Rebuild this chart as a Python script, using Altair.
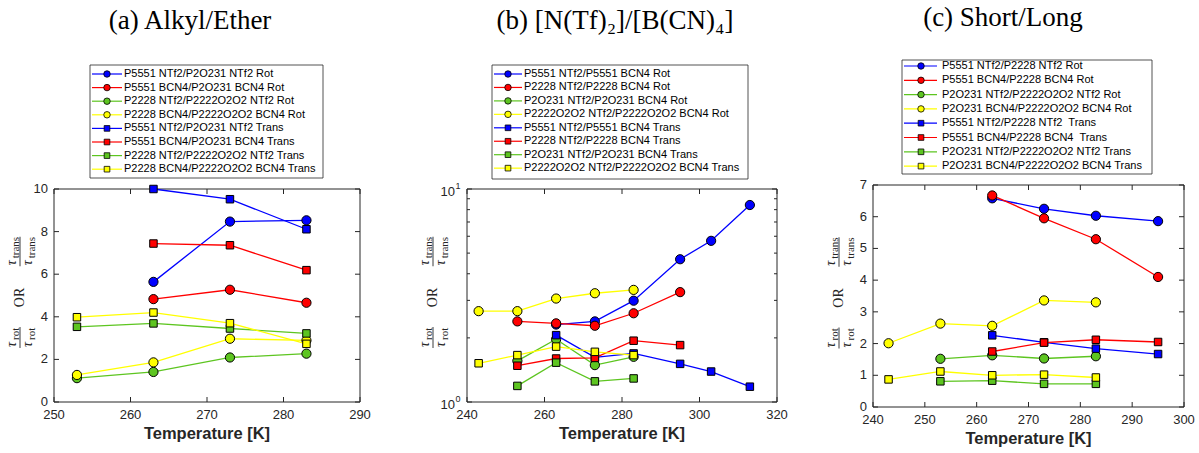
import altair as alt
import pandas as pd

# ---------------------------------------------------------------- data
COLORS = ["#0000FF", "#FF0000", "#5DC520", "#FFFF00",
          "#0000FF", "#FF0000", "#5DC520", "#FFFF00"]
SHAPES = ["circle"] * 4 + ["square"] * 4

A_LABELS = ["P5551 NTf2/P2O231 NTf2 Rot", "P5551 BCN4/P2O231 BCN4 Rot",
            "P2228 NTf2/P2222O2O2 NTf2 Rot", "P2228 BCN4/P2222O2O2 BCN4 Rot",
            "P5551 NTf2/P2O231 NTf2 Trans", "P5551 BCN4/P2O231 BCN4 Trans",
            "P2228 NTf2/P2222O2O2 NTf2 Trans", "P2228 BCN4/P2222O2O2 BCN4 Trans"]
A_T = [[263, 273, 283], [263, 273, 283], [253, 263, 273, 283], [253, 263, 273, 283],
       [263, 273, 283], [263, 273, 283], [253, 263, 273, 283], [253, 263, 273, 283]]
A_Y = [[5.64, 8.47, 8.53], [4.83, 5.27, 4.66], [1.12, 1.41, 2.09, 2.27], [1.27, 1.86, 2.97, 2.89],
       [10.0, 9.52, 8.11], [7.44, 7.36, 6.19], [3.53, 3.69, 3.45, 3.22], [3.98, 4.20, 3.70, 2.73]]

B_LABELS = ["P5551 NTf2/P5551 BCN4 Rot", "P2228 NTf2/P2228 BCN4 Rot",
            "P2O231 NTf2/P2O231 BCN4 Rot", "P2222O2O2 NTf2/P2222O2O2 BCN4 Rot",
            "P5551 NTf2/P5551 BCN4 Trans", "P2228 NTf2/P2228 BCN4 Trans",
            "P2O231 NTf2/P2O231 BCN4 Trans", "P2222O2O2 NTf2/P2222O2O2 BCN4 Trans"]
B_T = [[263, 273, 283, 295, 303, 313], [253, 263, 273, 283, 295], [253, 263, 273, 283],
       [243, 253, 263, 273, 283],
       [263, 273, 283, 295, 303, 313], [253, 263, 273, 283, 295], [253, 263, 273, 283],
       [243, 253, 263, 273, 283]]
B_Y = [[2.31, 2.39, 2.99, 4.68, 5.71, 8.41], [2.39, 2.34, 2.28, 2.61, 3.28], [1.56, 1.97, 1.49, 1.63],
       [2.67, 2.67, 3.06, 3.24, 3.36],
       [2.06, 1.62, 1.69, 1.51, 1.39, 1.18], [1.48, 1.60, 1.61, 1.94, 1.85], [1.19, 1.53, 1.25, 1.29],
       [1.52, 1.66, 1.82, 1.72, 1.66]]

C_LABELS = ["P5551 NTf2/P2228 NTf2 Rot", "P5551 BCN4/P2228 BCN4 Rot",
            "P2O231 NTf2/P2222O2O2 NTf2 Rot", "P2O231 BCN4/P2222O2O2 BCN4 Rot",
            "P5551 NTf2/P2228 NTf2\u00a0 Trans", "P5551 BCN4/P2228 BCN4\u00a0 Trans",
            "P2O231 NTf2/P2222O2O2 NTf2 Trans", "P2O231 BCN4/P2222O2O2 BCN4 Trans"]
C_T = [[263, 273, 283, 295], [263, 273, 283, 295], [253, 263, 273, 283], [243, 253, 263, 273, 283],
       [263, 273, 283, 295], [263, 273, 283, 295], [253, 263, 273, 283], [243, 253, 263, 273, 283]]
C_Y = [[6.58, 6.25, 6.03, 5.86], [6.67, 5.95, 5.29, 4.10], [1.52, 1.63, 1.53, 1.60],
       [2.01, 2.63, 2.56, 3.36, 3.30],
       [2.26, 2.04, 1.84, 1.67], [1.75, 2.03, 2.12, 2.05], [0.81, 0.83, 0.73, 0.73],
       [0.87, 1.12, 1.00, 1.02, 0.93]]

TITLES = ["(a) Alkyl/Ether", "(b) [N(Tf)\u2082]/[B(CN)\u2084]", "(c) Short/Long"]
X_TITLE = "Temperature [K]"

# ---------------------------------------------------------------- style
INK = "#262626"
SANS = "Liberation Sans"
SERIF = "Liberation Serif"
TICK = 5
ONE = pd.DataFrame({"k": [0]})


def text_at(x, y, text, **kw):
    return alt.Chart(ONE).mark_text(**kw).encode(
        x=alt.value(x), y=alt.value(y), text=alt.value(text))


def rule_at(x, x2, y, y2, **kw):
    return alt.Chart(ONE).mark_rule(**kw).encode(
        x=alt.value(x), x2=alt.value(x2), y=alt.value(y), y2=alt.value(y2))


def y_label(top, bot):
    """Rotated  tau_rot/tau_rot  OR  tau_trans/tau_trans  label left of the axes."""
    layers = []
    pc = (top + bot) / 2
    x_num, x_bar, x_den, x_or = -41, -34, -25, -34
    tau_w = 7.0
    for sub, cy in (("rot", pc + 42), ("trans", pc - 44)):
        sub_w = {"rot": 12.0, "trans": 20.5}[sub]
        L = tau_w + sub_w
        y0 = cy + L / 2
        for xc in (x_num, x_den):
            layers.append(text_at(xc - 1, y0, "\u03c4", font=SERIF, fontSize=14, fontStyle="italic",
                                  color=INK, angle=270, align="left", baseline="middle"))
            layers.append(text_at(xc + 2.5, y0 - tau_w, sub, font=SERIF, fontSize=11,
                                  color=INK, angle=270, align="left", baseline="middle"))
        layers.append(rule_at(x_bar, x_bar, cy - L / 2 - 1, cy + L / 2 + 1,
                              color=INK, strokeWidth=0.9))
    layers.append(text_at(x_or, pc + 2, "OR", font=SERIF, fontSize=14, color=INK,
                          angle=270, align="center", baseline="middle"))
    return layers


def legend(labels, box, row0, dy, line_x, mark_x, text_x):
    bx0, by0, bx1, by1 = box
    layers = [alt.Chart(ONE).mark_rect(fill="white", stroke=INK, strokeWidth=0.8).encode(
        x=alt.value(bx0), x2=alt.value(bx1), y=alt.value(by0), y2=alt.value(by1))]
    for i, lab in enumerate(labels):
        ry = row0 + i * dy
        layers.append(rule_at(line_x[0], line_x[1], ry, ry, color=COLORS[i], strokeWidth=1.2))
        layers.append(alt.Chart(ONE).mark_point(
            shape=SHAPES[i], filled=True, fill=COLORS[i], stroke="black", strokeWidth=0.8,
            opacity=1, size=42 if SHAPES[i] == "circle" else 32).encode(
            x=alt.value(mark_x), y=alt.value(ry)))
        layers.append(text_at(text_x, ry, lab, font=SANS, fontSize=11, color="black",
                              align="left", baseline="middle"))
    return layers


def panel(cfg):
    pw, top, bot = cfg["plot_w"], cfg["top"], cfg["bot"]
    xs = alt.Scale(domain=cfg["xdom"], range=[0, pw], nice=False, zero=False)
    if cfg["log"]:
        ys = alt.Scale(type="log", domain=cfg["ydom"], range=[bot, top], nice=False)
    else:
        ys = alt.Scale(domain=cfg["ydom"], range=[bot, top], nice=False, zero=False)
    X = lambda f: alt.X(f, scale=xs, axis=None)
    Y = lambda f: alt.Y(f, scale=ys, axis=None)

    layers = []
    if cfg.get("anchor"):
        layers.append(rule_at(cfg["anchor"][0], 0, cfg["anchor"][1], 0, opacity=0))

    # axes box
    layers.append(alt.Chart(ONE).mark_rect(fill="white", stroke=INK, strokeWidth=1).encode(
        x=alt.value(0), x2=alt.value(pw), y=alt.value(top), y2=alt.value(bot)))

    # x ticks (inward, bottom and top), tick labels and axis title
    xt = pd.DataFrame({"T": cfg["xticks"]})
    layers.append(alt.Chart(xt).mark_rule(color=INK, strokeWidth=1).encode(
        x=X("T:Q"), y=alt.value(bot), y2=alt.value(bot - TICK)))
    layers.append(alt.Chart(xt).mark_rule(color=INK, strokeWidth=1).encode(
        x=X("T:Q"), y=alt.value(top), y2=alt.value(top + TICK)))
    layers.append(alt.Chart(xt).mark_text(font=SANS, fontSize=13, color=INK, align="center",
                                          baseline="middle").encode(
        x=X("T:Q"), y=alt.value(bot + cfg["xlab_dy"]), text=alt.Text("T:Q", format="d")))
    layers.append(text_at(pw / 2, bot + 37, X_TITLE, font=SANS, fontSize=16.5, fontWeight="bold",
                          color=INK, align="center", baseline="alphabetic"))

    # y ticks (inward, left and right) and tick labels
    yt = pd.DataFrame({"v": cfg["yticks"]})
    layers.append(alt.Chart(yt).mark_rule(color=INK, strokeWidth=1).encode(
        y=Y("v:Q"), x=alt.value(0), x2=alt.value(TICK)))
    layers.append(alt.Chart(yt).mark_rule(color=INK, strokeWidth=1).encode(
        y=Y("v:Q"), x=alt.value(pw), x2=alt.value(pw - TICK)))

    if cfg["log"]:
        ym = pd.DataFrame({"v": cfg["yminor"]})
        layers.append(alt.Chart(ym).mark_rule(color=INK, strokeWidth=1).encode(
            y=Y("v:Q"), x=alt.value(0), x2=alt.value(3)))
        layers.append(alt.Chart(ym).mark_rule(color=INK, strokeWidth=1).encode(
            y=Y("v:Q"), x=alt.value(pw), x2=alt.value(pw - 3)))
        # decade labels 10^0, 10^1
        dec = pd.DataFrame({"v": cfg["yticks"], "base": ["10"] * len(cfg["yticks"]),
                            "exp": [str(i) for i in range(len(cfg["yticks"]))]})
        layers.append(alt.Chart(dec).mark_text(font=SANS, fontSize=13, color=INK, align="right",
                                               baseline="middle", dy=2.5).encode(
            y=Y("v:Q"), x=alt.value(-12), text="base:N"))
        layers.append(alt.Chart(dec).mark_text(font=SANS, fontSize=9, color=INK, align="left",
                                               baseline="middle", dy=-3.5).encode(
            y=Y("v:Q"), x=alt.value(-11.5), text="exp:N"))
    else:
        layers.append(alt.Chart(yt).mark_text(font=SANS, fontSize=13, color=INK, align="right",
                                              baseline="middle").encode(
            y=Y("v:Q"), x=alt.value(-6), text=alt.Text("v:Q", format="d")))

    # series: each line with its markers, in legend order
    for i in range(8):
        df = pd.DataFrame({"T": cfg["T"][i], "v": cfg["Y"][i]})
        enc = dict(x=X("T:Q"), y=Y("v:Q"))
        layers.append(alt.Chart(df).mark_line(color=COLORS[i], strokeWidth=1.3).encode(**enc))
        layers.append(alt.Chart(df).mark_point(
            shape=SHAPES[i], filled=True, fill=COLORS[i], stroke="black", strokeWidth=1,
            opacity=1, size=85 if SHAPES[i] == "circle" else 56).encode(**enc))

    layers += legend(cfg["labels"], **cfg["legend"])
    layers.append(text_at(cfg["title_xy"][0], cfg["title_xy"][1], cfg["title"], font=SERIF,
                          fontSize=27, color="black", align="center", baseline="alphabetic"))
    layers += y_label(top, bot)

    return alt.layer(*layers).properties(width=cfg["width"], height=cfg["height"])


PANELS = [
    dict(T=A_T, Y=A_Y, labels=A_LABELS, title=TITLES[0], log=False,
         xdom=[250, 290], xticks=[250, 260, 270, 280, 290],
         ydom=[0, 10], yticks=[0, 2, 4, 6, 8, 10],
         plot_w=306, width=317, height=222, top=4, bot=217, anchor=(-54, -185), xlab_dy=13,
         title_xy=(136, -156),
         legend=dict(box=(36, -120, 269, -7), row0=-111, dy=13.6,
                     line_x=(38, 68), mark_x=53, text_x=70)),
    dict(T=B_T, Y=B_Y, labels=B_LABELS, title=TITLES[1], log=True,
         xdom=[240, 320], xticks=[240, 260, 280, 300, 320],
         ydom=[1, 10], yticks=[1, 10], yminor=[2, 3, 4, 5, 6, 7, 8, 9],
         plot_w=310, width=310, height=222, top=4, bot=217, xlab_dy=13,
         title_xy=(148, -156),
         legend=dict(box=(25, -120, 281, -6), row0=-111, dy=13.45,
                     line_x=(27, 55), mark_x=41, text_x=57)),
    dict(T=C_T, Y=C_Y, labels=C_LABELS, title=TITLES[2], log=False,
         xdom=[240, 300], xticks=[240, 250, 260, 270, 280, 290, 300],
         ydom=[0, 7], yticks=[0, 1, 2, 3, 4, 5, 6, 7],
         plot_w=311, width=311, height=222, top=0, bot=222, xlab_dy=13,
         title_xy=(130, -159),
         legend=dict(box=(29, -125, 279, -11), row0=-119, dy=14.3,
                     line_x=(31, 64), mark_x=48, text_x=69)),
]

chart = alt.hconcat(*[panel(p) for p in PANELS], spacing=96, bounds="flush").properties(
    padding=0, background="white").configure_view(stroke=None)

chart.save("out.html", embed_options={"renderer": "svg", "actions": False})
